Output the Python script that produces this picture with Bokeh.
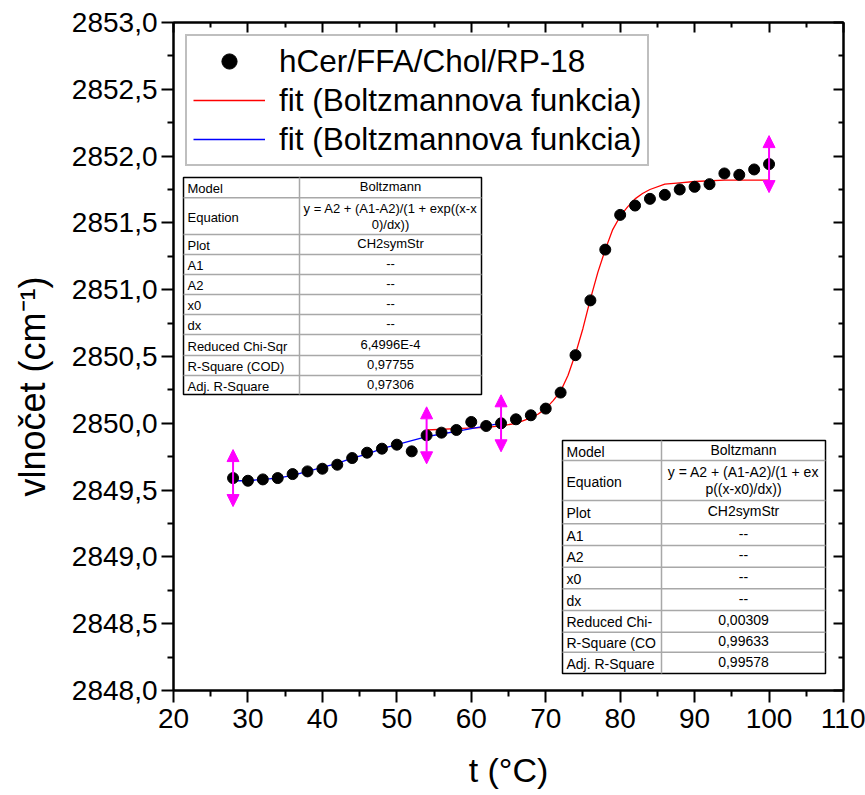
from bokeh.plotting import figure
from bokeh.models import (ColumnDataSource, Range1d, LinearAxis, Legend, LegendItem,
                          Arrow, NormalHead, FixedTicker, CustomJSTickFormatter)
from bokeh.core.properties import value
from bokeh.embed import file_html
from bokeh.resources import INLINE

# ---------------- data ----------------
temperature = [28, 30, 32, 34, 36, 38, 40, 42, 44, 46, 48, 50, 52, 54, 56, 58, 60, 62, 64,
               66, 68, 70, 72, 74, 76, 78, 80, 82, 84, 86, 88, 90, 92, 94, 96, 98, 100]
wavenumber = [2849.59, 2849.57, 2849.58, 2849.59, 2849.62, 2849.64, 2849.66, 2849.69, 2849.74,
              2849.78, 2849.81, 2849.84, 2849.79, 2849.91, 2849.93, 2849.95, 2850.01, 2849.98,
              2850.00, 2850.03, 2850.06, 2850.11, 2850.23, 2850.51, 2850.92, 2851.30, 2851.56,
              2851.63, 2851.68, 2851.71, 2851.75, 2851.77, 2851.79, 2851.87, 2851.86, 2851.90,
              2851.94]

red_fit_t = [54, 58, 62, 64, 66, 68, 69, 70, 71, 72, 73, 74, 75, 76, 77, 78, 79, 80, 81, 82,
             83, 84, 86, 88, 90, 94, 100]
red_fit_v = [2849.95, 2849.96, 2849.97, 2849.98, 2850.00, 2850.04, 2850.07, 2850.11, 2850.17,
             2850.24, 2850.36, 2850.52, 2850.71, 2850.93, 2851.13, 2851.30, 2851.45, 2851.55,
             2851.62, 2851.68, 2851.72, 2851.75, 2851.79, 2851.80, 2851.81, 2851.82, 2851.82]

blue_fit_t = [28, 30, 32, 34, 36, 38, 40, 42, 44, 46, 48, 50, 52, 54, 56, 58, 60, 62, 64]
blue_fit_v = [2849.57, 2849.57, 2849.58, 2849.59, 2849.61, 2849.64, 2849.67, 2849.70, 2849.74,
              2849.77, 2849.81, 2849.84, 2849.87, 2849.90, 2849.92, 2849.94, 2849.96, 2849.98,
              2850.00]

range_marker_t = [28, 54, 64, 100]

x_ticks = [20, 30, 40, 50, 60, 70, 80, 90, 100, 110]
x_minor = [25, 35, 45, 55, 65, 75, 85, 95, 105]
y_ticks = [2848.0, 2848.5, 2849.0, 2849.5, 2850.0, 2850.5, 2851.0, 2851.5, 2852.0, 2852.5, 2853.0]
y_minor = [2848.25, 2848.75, 2849.25, 2849.75, 2850.25, 2850.75, 2851.25, 2851.75, 2852.25, 2852.75]

x_title = "t (°C)"
y_title = "vlnočet (cm⁻¹)"
legend_labels = ["hCer/FFA/Chol/RP-18", "fit (Boltzmannova funkcia)", "fit (Boltzmannova funkcia)"]

table_names = ["Model", "Equation", "Plot", "A1", "A2", "x0", "dx", "Reduced Chi-Sqr",
               "R-Square (COD)", "Adj. R-Square"]
table1_values = ["Boltzmann", "y = A2 + (A1-A2)/(1 + exp((x-x\n0)/dx))", "CH2symStr", "--", "--",
                 "--", "--", "6,4996E-4", "0,97755", "0,97306"]
table2_names = ["Model", "Equation", "Plot", "A1", "A2", "x0", "dx", "Reduced Chi-",
                "R-Square (CO", "Adj. R-Square"]
table2_values = ["Boltzmann", "y = A2 + (A1-A2)/(1 + ex\np((x-x0)/dx))", "CH2symStr", "--", "--",
                 "--", "--", "0,00309", "0,99633", "0,99578"]

# ---------------- layout ----------------
X0, X1 = 20, 110
Y0, Y1 = 2848.0, 2853.0
FL, FT, FW, FH = 173, 22, 670, 668
FONT = "Liberation Sans"


def px_x(px):
    return X0 + (px - FL) * (X1 - X0) / FW


def px_y(py):
    return Y1 - (py - FT) * (Y1 - Y0) / FH


p = figure(frame_width=FW, frame_height=FH,
           x_range=Range1d(X0, X1), y_range=Range1d(Y0, Y1),
           output_backend="svg", toolbar_location=None,
           min_border_left=FL, min_border_top=FT, min_border_right=865 - FL - FW,
           min_border_bottom=795 - FT - FH)
p.grid.visible = False
p.outline_line_color = "black"
p.outline_line_width = 2
p.background_fill_color = "white"
p.border_fill_color = "white"

fmt_y = CustomJSTickFormatter(code="return tick.toFixed(1).replace('.', ',');")
xa = p.xaxis[0]
ya = p.yaxis[0]
xa.ticker = FixedTicker(ticks=x_ticks, minor_ticks=x_minor)
ya.ticker = FixedTicker(ticks=y_ticks, minor_ticks=y_minor)
ya.formatter = fmt_y
xa.axis_label = x_title
# the reference title sits below the axis centre: pad its top end with no-break spaces
ya.axis_label = y_title + "\u00a0" * 6
for ax in (xa, ya):
    ax.axis_line_width = 2
    ax.major_tick_line_width = 2
    ax.minor_tick_line_width = 2
    ax.major_tick_out = 12
    ax.major_tick_in = 0
    ax.minor_tick_out = 6
    ax.minor_tick_in = 0
    ax.major_label_text_font = FONT
    ax.major_label_text_font_size = "28px"
    ax.major_label_text_color = "black"
    ax.axis_label_text_font = FONT
    ax.axis_label_text_font_style = "normal"
    ax.axis_label_text_color = "black"
xa.axis_label_text_font_size = "34px"
ya.axis_label_text_font_size = "36px"
xa.major_label_standoff = 6
ya.major_label_standoff = 4
xa.axis_label_standoff = 20
ya.axis_label_standoff = 16

blank = CustomJSTickFormatter(code="return '';")
top = LinearAxis(ticker=FixedTicker(ticks=x_ticks, minor_ticks=x_minor), formatter=blank)
right = LinearAxis(ticker=FixedTicker(ticks=y_ticks, minor_ticks=y_minor), formatter=blank)
for ax in (top, right):
    ax.axis_line_width = 2
    ax.major_tick_line_width = 2
    ax.minor_tick_line_width = 2
    ax.major_tick_out = 0
    ax.major_tick_in = 10
    ax.minor_tick_out = 0
    ax.minor_tick_in = 5
    ax.major_label_standoff = 0
p.add_layout(top, "above")
p.add_layout(right, "right")

# ---------------- tables ----------------
def draw_table(left, right_, top_, col, row_edges, names, vals, fsize, eq_gap):
    p.quad(left=[px_x(left)], right=[px_x(right_)], top=[px_y(top_)], bottom=[px_y(row_edges[-1])],
           fill_color="white", line_color="black", line_width=1.5)
    inner = row_edges[1:-1]
    p.segment(x0=[px_x(left)] * len(inner), x1=[px_x(right_)] * len(inner),
              y0=[px_y(r) for r in inner], y1=[px_y(r) for r in inner],
              line_color="#a8a8a8", line_width=1.5)
    p.segment(x0=[px_x(col)], x1=[px_x(col)], y0=[px_y(top_)], y1=[px_y(row_edges[-1])],
              line_color="#a8a8a8", line_width=1.5)
    ny, vx, vy, vt = [], [], [], []
    for i, (n, v) in enumerate(zip(names, vals)):
        cy = (row_edges[i] + row_edges[i + 1]) / 2
        ny.append(px_y(cy + 1))
        lines = v.split("\n")
        if len(lines) == 1:
            vx.append(px_x((col + right_) / 2)); vy.append(px_y(cy - 1)); vt.append(v)
        else:
            vx += [px_x((col + right_) / 2)] * 2
            vy += [px_y(cy - eq_gap), px_y(cy + eq_gap)]
            vt += lines
    p.text(x=[px_x(left + 4)] * len(names), y=ny, text=names, text_font=value(FONT),
           text_font_size=fsize, text_align="left", text_baseline="middle", text_color="black")
    p.text(x=vx, y=vy, text=vt, text_font=value(FONT), text_font_size=fsize,
           text_align="center", text_baseline="middle", text_color="black")


draw_table(183, 481, 177, 299, [177, 197.3, 234, 254, 274, 294, 314, 334, 355, 375, 394],
           table_names, table1_values, "13px", 8)
draw_table(562, 825, 440, 661, [440, 460, 500, 523.3, 545, 566.7, 588.3, 610, 631.7, 651.7, 673],
           table2_names, table2_values, "14px", 8.5)

# ---------------- fits, data, markers ----------------
r_red = p.line(red_fit_t, red_fit_v, line_color="#ff0000", line_width=1.3)
r_blue = p.line(blue_fit_t, blue_fit_v, line_color="#0000ff", line_width=1.3)

half = 28.5 * (Y1 - Y0) / FH
lookup = dict(zip(temperature, wavenumber))
msrc = ColumnDataSource(dict(
    x=range_marker_t,
    y0=[lookup[t] - half for t in range_marker_t],
    y1=[lookup[t] + half for t in range_marker_t],
))
p.add_layout(Arrow(source=msrc, x_start="x", y_start="y0", x_end="x", y_end="y1",
                   line_color="#ff00ff", line_width=2,
                   start=NormalHead(size=12, fill_color="#ff00ff", line_color="#ff00ff"),
                   end=NormalHead(size=12, fill_color="#ff00ff", line_color="#ff00ff")))

r_pts = p.scatter(temperature, wavenumber, marker="circle", size=11, fill_color="black",
                  line_color="black")
# smaller dot used only as the legend symbol (not drawn in the plot: NaN position)
r_pts_key = p.scatter(x=[float("nan")], y=[float("nan")], marker="circle", size=8,
                      fill_color="black", line_color="black")

legend = Legend(items=[LegendItem(label=legend_labels[0], renderers=[r_pts_key]),
                       LegendItem(label=legend_labels[1], renderers=[r_red]),
                       LegendItem(label=legend_labels[2], renderers=[r_blue])],
                location="top_left", margin=12, padding=6, spacing=1,
                glyph_width=72, glyph_height=38, label_height=38, label_standoff=14,
                label_text_font=FONT, label_text_font_size="31.5px", label_text_color="black",
                border_line_color="#808080", border_line_width=2, background_fill_alpha=1)
p.add_layout(legend, "center")

open("out.html", "w").write(file_html(p, INLINE))
